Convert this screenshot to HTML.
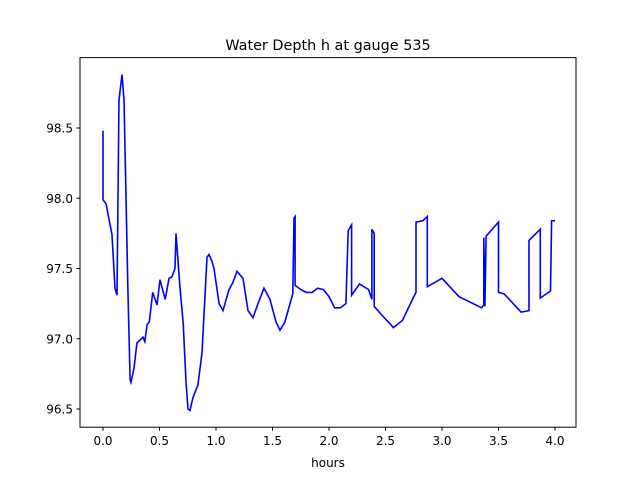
<!DOCTYPE html>
<html><head><meta charset="utf-8"><style>
body{margin:0;background:#fff;}
svg text{font-family:"DejaVu Sans","Liberation Sans",sans-serif;fill:#000;}
</style></head><body>
<svg id="chart" width="640" height="480" xmlns="http://www.w3.org/2000/svg">
<rect width="640" height="480" fill="#fff"/>
<text x="328" y="50" font-size="14.4" text-anchor="middle">Water Depth h at gauge 535</text>
<g id="plot"></g>
<rect x="80" y="57.6" width="496" height="369.6" fill="none" stroke="#000" stroke-width="1"/>
<g id="xt"></g><g id="yt"></g>
<text x="328" y="467" font-size="12" text-anchor="middle">hours</text>
</svg>
<script>
const hours=[0,0,0.027,0.08,0.106,0.124,0.142,0.168,0.186,0.22,0.24,0.248,0.274,0.30,0.354,0.37,0.39,0.41,0.44,0.478,0.504,0.55,0.584,0.61,0.637,0.646,0.68,0.71,0.735,0.752,0.77,0.796,0.84,0.876,0.92,0.938,0.965,0.982,1.027,1.062,1.115,1.15,1.186,1.239,1.283,1.327,1.372,1.425,1.478,1.531,1.566,1.61,1.655,1.68,1.69,1.70,1.70,1.75,1.8,1.85,1.9,1.95,2.0,2.05,2.1,2.15,2.17,2.2,2.2,2.27,2.35,2.38,2.38,2.4,2.4,2.5,2.57,2.65,2.75,2.77,2.77,2.83,2.87,2.87,3.0,3.15,3.35,3.37,3.37,3.38,3.39,3.5,3.5,3.55,3.7,3.77,3.77,3.87,3.87,3.96,3.97,4.0];
const depth=[98.48,97.99,97.96,97.74,97.36,97.31,98.7,98.88,98.7,97.35,96.71,96.69,96.79,96.97,97.01,96.98,97.1,97.12,97.33,97.24,97.42,97.28,97.43,97.44,97.5,97.75,97.38,97.11,96.68,96.5,96.49,96.58,96.67,96.9,97.58,97.6,97.55,97.5,97.25,97.2,97.35,97.4,97.48,97.43,97.2,97.15,97.25,97.36,97.28,97.12,97.06,97.12,97.25,97.32,97.86,97.87,97.38,97.35,97.33,97.33,97.36,97.35,97.3,97.22,97.22,97.25,97.77,97.81,97.31,97.39,97.35,97.28,97.78,97.75,97.23,97.14,97.08,97.13,97.3,97.33,97.83,97.84,97.87,97.37,97.43,97.3,97.22,97.24,97.72,97.23,97.73,97.83,97.33,97.32,97.19,97.2,97.7,97.78,97.29,97.34,97.84,97.84];
const xTicks=[0,0.5,1,1.5,2,2.5,3,3.5,4];
const yTicks=[96.5,97,97.5,98,98.5];
const xs=h=>103+h*113, ys=v=>128+(98.5-v)*140.5;
const NS="http://www.w3.org/2000/svg";
const p=document.createElementNS(NS,'polyline');


p.setAttribute('points',hours.map((h,i)=>xs(h).toFixed(1)+','+ys(depth[i]).toFixed(1)).join(' '));
p.setAttribute('fill','none');p.setAttribute('stroke','#0000ff');p.setAttribute('stroke-width','1.6');
document.getElementById('plot').appendChild(p);
xTicks.forEach(t=>{const g=document.getElementById('xt');const x=xs(t);
const l=document.createElementNS(NS,'line');


l.setAttribute('x1',x);l.setAttribute('x2',x);l.setAttribute('y1',427.2);l.setAttribute('y2',430.7);l.setAttribute('stroke','#000');g.appendChild(l);
const tx=document.createElementNS(NS,'text');


tx.setAttribute('x',x);tx.setAttribute('y',445);tx.setAttribute('font-size','12');tx.setAttribute('text-anchor','middle');tx.textContent=t.toFixed(1);g.appendChild(tx);});
yTicks.forEach(t=>{const g=document.getElementById('yt');const y=ys(t);
const l=document.createElementNS(NS,'line');


l.setAttribute('x1',76.5);l.setAttribute('x2',80);l.setAttribute('y1',y);l.setAttribute('y2',y);l.setAttribute('stroke','#000');g.appendChild(l);
const tx=document.createElementNS(NS,'text');


tx.setAttribute('x',73);tx.setAttribute('y',y+4.5);tx.setAttribute('font-size','12');tx.setAttribute('text-anchor','end');tx.textContent=t.toFixed(1);g.appendChild(tx);});
</script>
</body></html>
